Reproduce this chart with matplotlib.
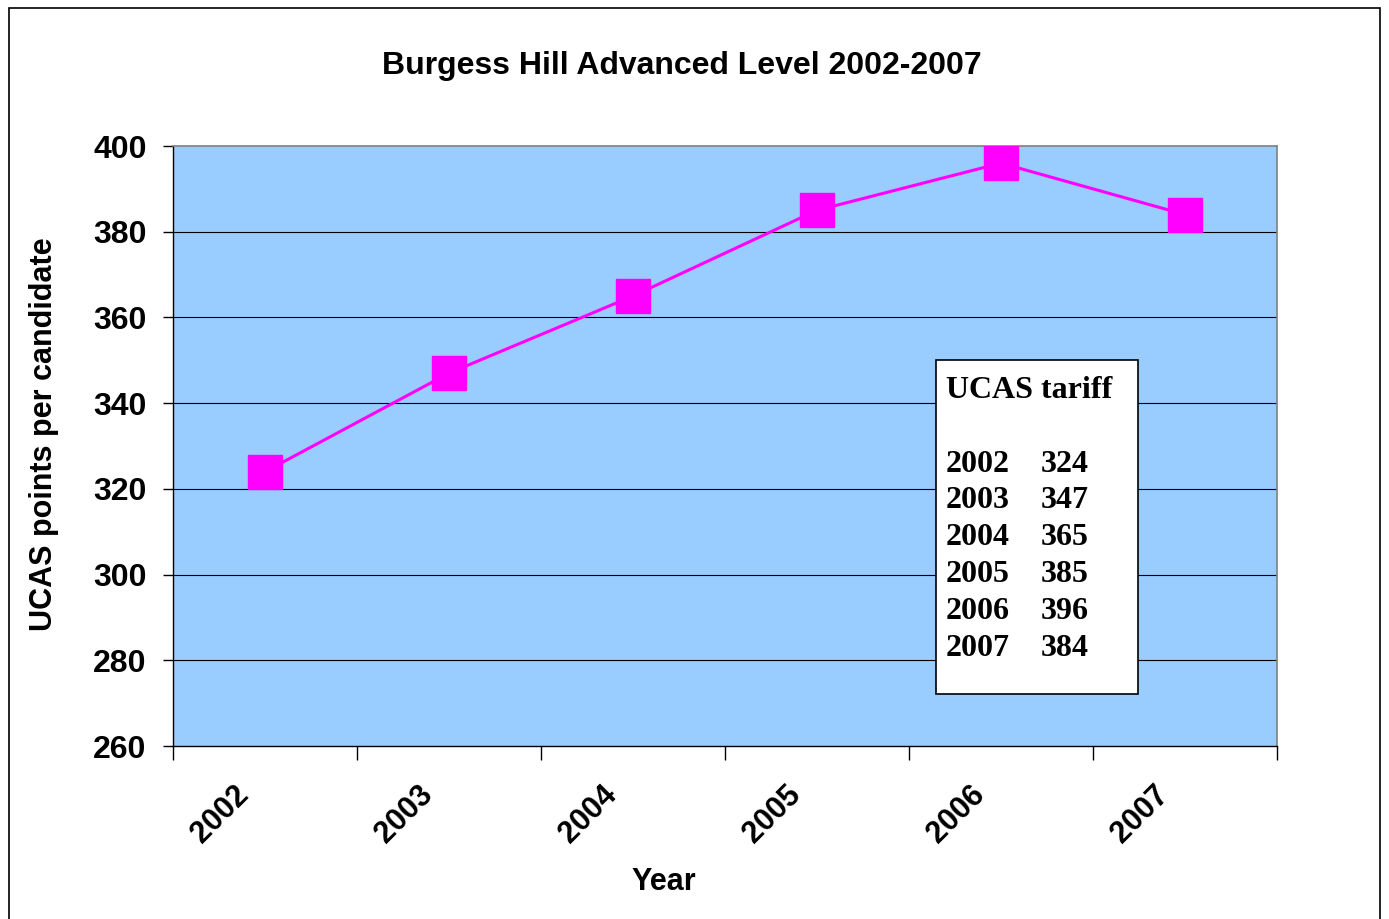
import matplotlib.pyplot as plt
from matplotlib.patches import Rectangle
from matplotlib.transforms import ScaledTranslation

# data
years = ['2002', '2003', '2004', '2005', '2006', '2007']
points = [324, 347, 365, 385, 396, 384]
yticks = [260, 280, 300, 320, 340, 360, 380, 400]

W, H = 1389, 919
fig = plt.figure(figsize=(W / 100, H / 100), dpi=100)

# outer chart border
fig.patches.append(Rectangle((9 / W, -0.01), (1380 - 9) / W, (H - 8) / H + 0.01,
                             transform=fig.transFigure, fill=False,
                             edgecolor='black', linewidth=1.2))

ax = fig.add_axes([173 / W, 1 - 746 / H, (1277 - 173) / W, 600 / H])
ax.set_facecolor('#99CCFF')

x = list(range(len(years)))
ax.plot(x, points, color='#FF00FF', linewidth=2.2, marker='s',
        markersize=24, markerfacecolor='#FF00FF', markeredgecolor='#FF00FF',
        zorder=3)

ax.set_xlim(-0.5, len(years) - 0.5)
ax.set_ylim(260, 400)
ax.set_yticks(yticks)
ax.set_yticklabels([str(v) for v in yticks], fontsize=23, fontweight='bold',
                   family='Liberation Sans')
for v in yticks[1:-1]:
    ax.axhline(v, color='black', linewidth=0.8, zorder=1)

# category boundaries as ticks, labels drawn at centers
ax.set_xticks([i - 0.5 for i in range(len(years) + 1)])
ax.set_xticklabels([])
ax.tick_params(axis='x', direction='out', length=10, width=1)
ax.tick_params(axis='y', direction='out', length=7, width=1, pad=12)

shift = ScaledTranslation(-10 / 100, -34 / 100, fig.dpi_scale_trans)
for i, yr in enumerate(years):
    ax.text(i, 0, yr, transform=ax.get_xaxis_transform() + shift,
            rotation=45, ha='right', va='top', fontsize=22,
            fontweight='bold', family='Liberation Sans', clip_on=False)

for s in ['left', 'bottom']:
    ax.spines[s].set_color('black')
    ax.spines[s].set_linewidth(1)
for s in ['top', 'right']:
    ax.spines[s].set_color('#808080')
    ax.spines[s].set_linewidth(1.2)

# titles
fig.text(682 / W, 1 - 66 / H, 'Burgess Hill Advanced Level 2002-2007',
         ha='center', va='center', fontsize=23, fontweight='bold',
         family='Liberation Sans')
fig.text(664 / W, 1 - 882 / H, 'Year', ha='center', va='center',
         fontsize=22, fontweight='bold', family='Liberation Sans')
fig.text(44 / W, 1 - 434 / H, 'UCAS points per candidate', ha='center',
         va='center', rotation=90, fontsize=22, fontweight='bold',
         family='Liberation Sans')

# tariff box
ax.add_patch(Rectangle(((936 - 173) / 1104, (746 - 694) / 600),
                       (1138 - 936) / 1104, (694 - 360) / 600,
                       transform=ax.transAxes, facecolor='white',
                       edgecolor='black', linewidth=1.2, zorder=4))
serif = dict(family='Liberation Serif', fontweight='bold', fontsize=23,
             va='center', ha='left', zorder=5, transform=ax.transAxes)
ax.text((946 - 173) / 1104, (746 - 391) / 600, 'UCAS tariff', **serif)
for i, (yr, p) in enumerate(zip(years, points)):
    yy = (746 - (464 + i * 36.8)) / 600
    ax.text((946 - 173) / 1104, yy, yr, **serif)
    ax.text((1041 - 173) / 1104, yy, str(p), **serif)

fig.savefig('out.png', dpi=100)
